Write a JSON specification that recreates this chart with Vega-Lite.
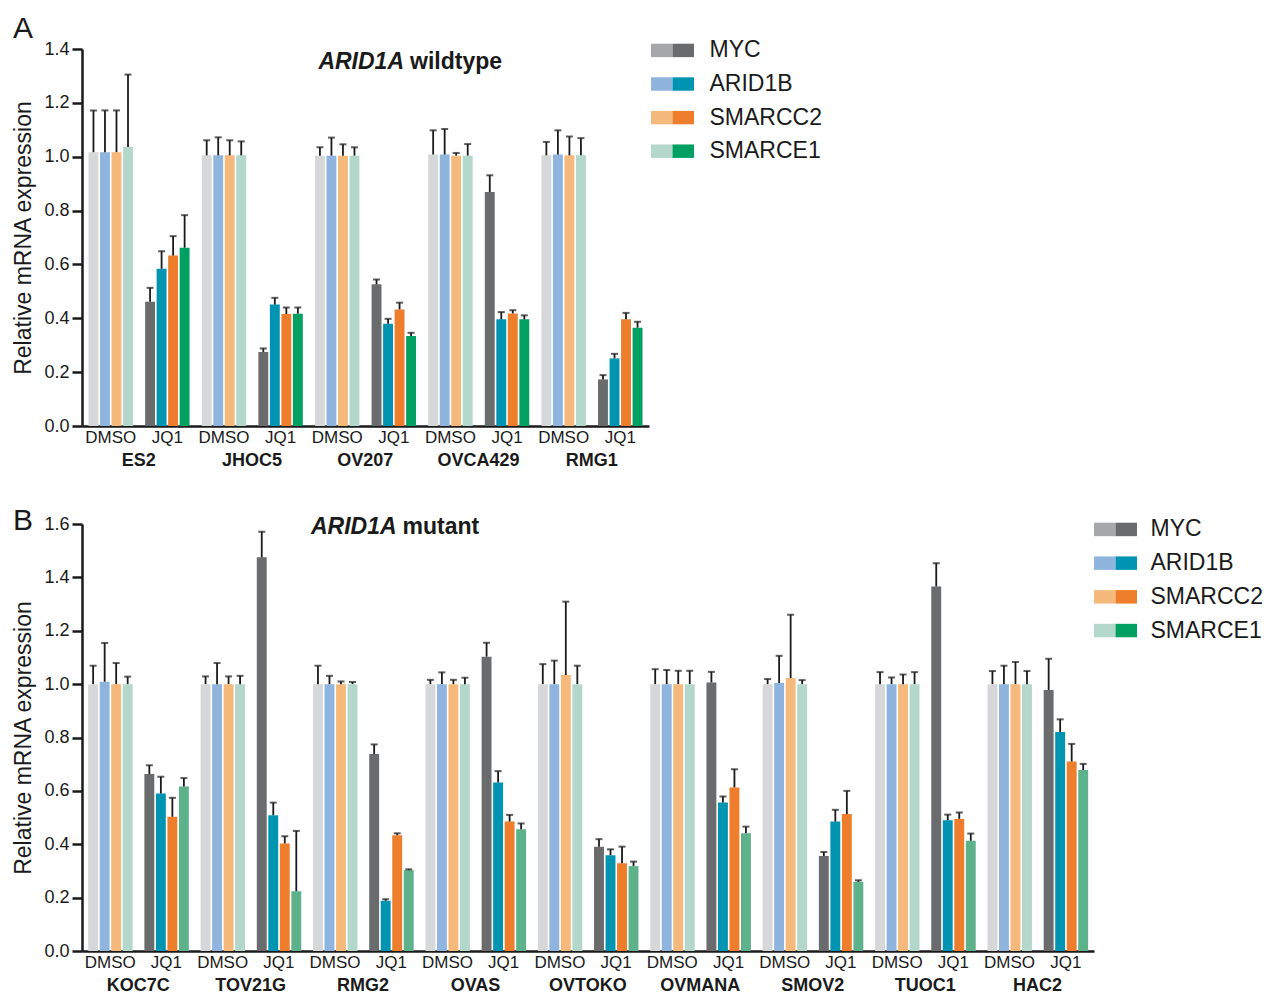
{
  "$schema": "https://vega.github.io/schema/vega-lite/v6.json",
  "background": "white",
  "padding": {"left": 12, "top": 14, "right": 2, "bottom": 2},
  "config": {
    "font": "Liberation Sans",
    "view": {"stroke": null},
    "axis": {"grid": false, "domainColor": "#1a1a1a", "tickColor": "#1a1a1a", "labelColor": "#1a1a1a", "titleColor": "#1a1a1a"},
    "axisY": {"tickSize": 10, "tickWidth": 2.5, "domainWidth": 2.5, "labelFontSize": 18, "labelPadding": 3, "titleFontSize": 23, "titleFontWeight": "normal", "titlePadding": 8},
    "axisX": {"domainWidth": 2.5, "ticks": false, "labelAngle": 0, "labelFontSize": 17, "labelPadding": 3}
  },
  "datasets": {
    "a": [
      {"g": "ES2|DMSO", "gene": "MYC", "k": "MYC|DMSO", "v": 1.017, "u": 1.172},
      {"g": "ES2|DMSO", "gene": "ARID1B", "k": "ARID1B|DMSO", "v": 1.017, "u": 1.172},
      {"g": "ES2|DMSO", "gene": "SMARCC2", "k": "SMARCC2|DMSO", "v": 1.017, "u": 1.172},
      {"g": "ES2|DMSO", "gene": "SMARCE1", "k": "SMARCE1|DMSO", "v": 1.036, "u": 1.305},
      {"g": "ES2|JQ1", "gene": "MYC", "k": "MYC|JQ1", "v": 0.461, "u": 0.513},
      {"g": "ES2|JQ1", "gene": "ARID1B", "k": "ARID1B|JQ1", "v": 0.584, "u": 0.649},
      {"g": "ES2|JQ1", "gene": "SMARCC2", "k": "SMARCC2|JQ1", "v": 0.633, "u": 0.705},
      {"g": "ES2|JQ1", "gene": "SMARCE1", "k": "SMARCE1|JQ1", "v": 0.662, "u": 0.783},
      {"g": "JHOC5|DMSO", "gene": "MYC", "k": "MYC|DMSO", "v": 1.005, "u": 1.061},
      {"g": "JHOC5|DMSO", "gene": "ARID1B", "k": "ARID1B|DMSO", "v": 1.005, "u": 1.072},
      {"g": "JHOC5|DMSO", "gene": "SMARCC2", "k": "SMARCC2|DMSO", "v": 1.005, "u": 1.061},
      {"g": "JHOC5|DMSO", "gene": "SMARCE1", "k": "SMARCE1|DMSO", "v": 1.005, "u": 1.057},
      {"g": "JHOC5|JQ1", "gene": "MYC", "k": "MYC|JQ1", "v": 0.275, "u": 0.288},
      {"g": "JHOC5|JQ1", "gene": "ARID1B", "k": "ARID1B|JQ1", "v": 0.451, "u": 0.476},
      {"g": "JHOC5|JQ1", "gene": "SMARCC2", "k": "SMARCC2|JQ1", "v": 0.416, "u": 0.44},
      {"g": "JHOC5|JQ1", "gene": "SMARCE1", "k": "SMARCE1|JQ1", "v": 0.417, "u": 0.44},
      {"g": "OV207|DMSO", "gene": "MYC", "k": "MYC|DMSO", "v": 1.004, "u": 1.035},
      {"g": "OV207|DMSO", "gene": "ARID1B", "k": "ARID1B|DMSO", "v": 1.004, "u": 1.071},
      {"g": "OV207|DMSO", "gene": "SMARCC2", "k": "SMARCC2|DMSO", "v": 1.004, "u": 1.046},
      {"g": "OV207|DMSO", "gene": "SMARCE1", "k": "SMARCE1|DMSO", "v": 1.004, "u": 1.035},
      {"g": "OV207|JQ1", "gene": "MYC", "k": "MYC|JQ1", "v": 0.526, "u": 0.544},
      {"g": "OV207|JQ1", "gene": "ARID1B", "k": "ARID1B|JQ1", "v": 0.38, "u": 0.398},
      {"g": "OV207|JQ1", "gene": "SMARCC2", "k": "SMARCC2|JQ1", "v": 0.433, "u": 0.458},
      {"g": "OV207|JQ1", "gene": "SMARCE1", "k": "SMARCE1|JQ1", "v": 0.334, "u": 0.346},
      {"g": "OVCA429|DMSO", "gene": "MYC", "k": "MYC|DMSO", "v": 1.008, "u": 1.098},
      {"g": "OVCA429|DMSO", "gene": "ARID1B", "k": "ARID1B|DMSO", "v": 1.008, "u": 1.103},
      {"g": "OVCA429|DMSO", "gene": "SMARCC2", "k": "SMARCC2|DMSO", "v": 1.004, "u": 1.014},
      {"g": "OVCA429|DMSO", "gene": "SMARCE1", "k": "SMARCE1|DMSO", "v": 1.004, "u": 1.047},
      {"g": "OVCA429|JQ1", "gene": "MYC", "k": "MYC|JQ1", "v": 0.869, "u": 0.931},
      {"g": "OVCA429|JQ1", "gene": "ARID1B", "k": "ARID1B|JQ1", "v": 0.396, "u": 0.423},
      {"g": "OVCA429|JQ1", "gene": "SMARCC2", "k": "SMARCC2|JQ1", "v": 0.418, "u": 0.43},
      {"g": "OVCA429|JQ1", "gene": "SMARCE1", "k": "SMARCE1|JQ1", "v": 0.396, "u": 0.411},
      {"g": "RMG1|DMSO", "gene": "MYC", "k": "MYC|DMSO", "v": 1.005, "u": 1.055},
      {"g": "RMG1|DMSO", "gene": "ARID1B", "k": "ARID1B|DMSO", "v": 1.008, "u": 1.098},
      {"g": "RMG1|DMSO", "gene": "SMARCC2", "k": "SMARCC2|DMSO", "v": 1.005, "u": 1.075},
      {"g": "RMG1|DMSO", "gene": "SMARCE1", "k": "SMARCE1|DMSO", "v": 1.005, "u": 1.069},
      {"g": "RMG1|JQ1", "gene": "MYC", "k": "MYC|JQ1", "v": 0.173, "u": 0.189},
      {"g": "RMG1|JQ1", "gene": "ARID1B", "k": "ARID1B|JQ1", "v": 0.251, "u": 0.268},
      {"g": "RMG1|JQ1", "gene": "SMARCC2", "k": "SMARCC2|JQ1", "v": 0.396, "u": 0.42},
      {"g": "RMG1|JQ1", "gene": "SMARCE1", "k": "SMARCE1|JQ1", "v": 0.365, "u": 0.387}
    ],
    "b": [
      {"g": "KOC7C|DMSO", "gene": "MYC", "k": "MYC|DMSO", "v": 1.0, "u": 1.069},
      {"g": "KOC7C|DMSO", "gene": "ARID1B", "k": "ARID1B|DMSO", "v": 1.009, "u": 1.154},
      {"g": "KOC7C|DMSO", "gene": "SMARCC2", "k": "SMARCC2|DMSO", "v": 1.0, "u": 1.079},
      {"g": "KOC7C|DMSO", "gene": "SMARCE1", "k": "SMARCE1|DMSO", "v": 1.0, "u": 1.028},
      {"g": "KOC7C|JQ1", "gene": "MYC", "k": "MYC|JQ1", "v": 0.663, "u": 0.696},
      {"g": "KOC7C|JQ1", "gene": "ARID1B", "k": "ARID1B|JQ1", "v": 0.59, "u": 0.653},
      {"g": "KOC7C|JQ1", "gene": "SMARCC2", "k": "SMARCC2|JQ1", "v": 0.503, "u": 0.574},
      {"g": "KOC7C|JQ1", "gene": "SMARCE1", "k": "SMARCE1|JQ1", "v": 0.616, "u": 0.648},
      {"g": "TOV21G|DMSO", "gene": "MYC", "k": "MYC|DMSO", "v": 1.0, "u": 1.029},
      {"g": "TOV21G|DMSO", "gene": "ARID1B", "k": "ARID1B|DMSO", "v": 1.0, "u": 1.079},
      {"g": "TOV21G|DMSO", "gene": "SMARCC2", "k": "SMARCC2|DMSO", "v": 1.0, "u": 1.029},
      {"g": "TOV21G|DMSO", "gene": "SMARCE1", "k": "SMARCE1|DMSO", "v": 1.0, "u": 1.031},
      {"g": "TOV21G|JQ1", "gene": "MYC", "k": "MYC|JQ1", "v": 1.475, "u": 1.571},
      {"g": "TOV21G|JQ1", "gene": "ARID1B", "k": "ARID1B|JQ1", "v": 0.509, "u": 0.556},
      {"g": "TOV21G|JQ1", "gene": "SMARCC2", "k": "SMARCC2|JQ1", "v": 0.403, "u": 0.43},
      {"g": "TOV21G|JQ1", "gene": "SMARCE1", "k": "SMARCE1|JQ1", "v": 0.224, "u": 0.45},
      {"g": "RMG2|DMSO", "gene": "MYC", "k": "MYC|DMSO", "v": 1.0, "u": 1.069},
      {"g": "RMG2|DMSO", "gene": "ARID1B", "k": "ARID1B|DMSO", "v": 1.0, "u": 1.031},
      {"g": "RMG2|DMSO", "gene": "SMARCC2", "k": "SMARCC2|DMSO", "v": 1.0, "u": 1.01},
      {"g": "RMG2|DMSO", "gene": "SMARCE1", "k": "SMARCE1|DMSO", "v": 1.0, "u": 1.008},
      {"g": "RMG2|JQ1", "gene": "MYC", "k": "MYC|JQ1", "v": 0.738, "u": 0.774},
      {"g": "RMG2|JQ1", "gene": "ARID1B", "k": "ARID1B|JQ1", "v": 0.188, "u": 0.194},
      {"g": "RMG2|JQ1", "gene": "SMARCC2", "k": "SMARCC2|JQ1", "v": 0.434, "u": 0.441},
      {"g": "RMG2|JQ1", "gene": "SMARCE1", "k": "SMARCE1|JQ1", "v": 0.303, "u": 0.306},
      {"g": "OVAS|DMSO", "gene": "MYC", "k": "MYC|DMSO", "v": 1.0, "u": 1.016},
      {"g": "OVAS|DMSO", "gene": "ARID1B", "k": "ARID1B|DMSO", "v": 1.0, "u": 1.044},
      {"g": "OVAS|DMSO", "gene": "SMARCC2", "k": "SMARCC2|DMSO", "v": 1.0, "u": 1.016},
      {"g": "OVAS|DMSO", "gene": "SMARCE1", "k": "SMARCE1|DMSO", "v": 1.0, "u": 1.024},
      {"g": "OVAS|JQ1", "gene": "MYC", "k": "MYC|JQ1", "v": 1.103, "u": 1.155},
      {"g": "OVAS|JQ1", "gene": "ARID1B", "k": "ARID1B|JQ1", "v": 0.631, "u": 0.674},
      {"g": "OVAS|JQ1", "gene": "SMARCC2", "k": "SMARCC2|JQ1", "v": 0.485, "u": 0.51},
      {"g": "OVAS|JQ1", "gene": "SMARCE1", "k": "SMARCE1|JQ1", "v": 0.456, "u": 0.478},
      {"g": "OVTOKO|DMSO", "gene": "MYC", "k": "MYC|DMSO", "v": 1.0, "u": 1.075},
      {"g": "OVTOKO|DMSO", "gene": "ARID1B", "k": "ARID1B|DMSO", "v": 1.0, "u": 1.088},
      {"g": "OVTOKO|DMSO", "gene": "SMARCC2", "k": "SMARCC2|DMSO", "v": 1.034, "u": 1.309},
      {"g": "OVTOKO|DMSO", "gene": "SMARCE1", "k": "SMARCE1|DMSO", "v": 1.0, "u": 1.069},
      {"g": "OVTOKO|JQ1", "gene": "MYC", "k": "MYC|JQ1", "v": 0.391, "u": 0.419},
      {"g": "OVTOKO|JQ1", "gene": "ARID1B", "k": "ARID1B|JQ1", "v": 0.359, "u": 0.381},
      {"g": "OVTOKO|JQ1", "gene": "SMARCC2", "k": "SMARCC2|JQ1", "v": 0.329, "u": 0.391},
      {"g": "OVTOKO|JQ1", "gene": "SMARCE1", "k": "SMARCE1|JQ1", "v": 0.318, "u": 0.335},
      {"g": "OVMANA|DMSO", "gene": "MYC", "k": "MYC|DMSO", "v": 1.0, "u": 1.056},
      {"g": "OVMANA|DMSO", "gene": "ARID1B", "k": "ARID1B|DMSO", "v": 1.0, "u": 1.053},
      {"g": "OVMANA|DMSO", "gene": "SMARCC2", "k": "SMARCC2|DMSO", "v": 1.0, "u": 1.05},
      {"g": "OVMANA|DMSO", "gene": "SMARCE1", "k": "SMARCE1|DMSO", "v": 1.0, "u": 1.05},
      {"g": "OVMANA|JQ1", "gene": "MYC", "k": "MYC|JQ1", "v": 1.006, "u": 1.046},
      {"g": "OVMANA|JQ1", "gene": "ARID1B", "k": "ARID1B|JQ1", "v": 0.556, "u": 0.579},
      {"g": "OVMANA|JQ1", "gene": "SMARCC2", "k": "SMARCC2|JQ1", "v": 0.613, "u": 0.681},
      {"g": "OVMANA|JQ1", "gene": "SMARCE1", "k": "SMARCE1|JQ1", "v": 0.441, "u": 0.466},
      {"g": "SMOV2|DMSO", "gene": "MYC", "k": "MYC|DMSO", "v": 1.0, "u": 1.019},
      {"g": "SMOV2|DMSO", "gene": "ARID1B", "k": "ARID1B|DMSO", "v": 1.004, "u": 1.106},
      {"g": "SMOV2|DMSO", "gene": "SMARCC2", "k": "SMARCC2|DMSO", "v": 1.023, "u": 1.26},
      {"g": "SMOV2|DMSO", "gene": "SMARCE1", "k": "SMARCE1|DMSO", "v": 1.0, "u": 1.015},
      {"g": "SMOV2|JQ1", "gene": "MYC", "k": "MYC|JQ1", "v": 0.356, "u": 0.371},
      {"g": "SMOV2|JQ1", "gene": "ARID1B", "k": "ARID1B|JQ1", "v": 0.485, "u": 0.529},
      {"g": "SMOV2|JQ1", "gene": "SMARCC2", "k": "SMARCC2|JQ1", "v": 0.513, "u": 0.6},
      {"g": "SMOV2|JQ1", "gene": "SMARCE1", "k": "SMARCE1|JQ1", "v": 0.259, "u": 0.265},
      {"g": "TUOC1|DMSO", "gene": "MYC", "k": "MYC|DMSO", "v": 1.0, "u": 1.045},
      {"g": "TUOC1|DMSO", "gene": "ARID1B", "k": "ARID1B|DMSO", "v": 1.0, "u": 1.025},
      {"g": "TUOC1|DMSO", "gene": "SMARCC2", "k": "SMARCC2|DMSO", "v": 1.0, "u": 1.036},
      {"g": "TUOC1|DMSO", "gene": "SMARCE1", "k": "SMARCE1|DMSO", "v": 1.0, "u": 1.045},
      {"g": "TUOC1|JQ1", "gene": "MYC", "k": "MYC|JQ1", "v": 1.366, "u": 1.453},
      {"g": "TUOC1|JQ1", "gene": "ARID1B", "k": "ARID1B|JQ1", "v": 0.49, "u": 0.511},
      {"g": "TUOC1|JQ1", "gene": "SMARCC2", "k": "SMARCC2|JQ1", "v": 0.495, "u": 0.519},
      {"g": "TUOC1|JQ1", "gene": "SMARCE1", "k": "SMARCE1|JQ1", "v": 0.413, "u": 0.44},
      {"g": "HAC2|DMSO", "gene": "MYC", "k": "MYC|DMSO", "v": 1.0, "u": 1.049},
      {"g": "HAC2|DMSO", "gene": "ARID1B", "k": "ARID1B|DMSO", "v": 1.0, "u": 1.069},
      {"g": "HAC2|DMSO", "gene": "SMARCC2", "k": "SMARCC2|DMSO", "v": 1.0, "u": 1.083},
      {"g": "HAC2|DMSO", "gene": "SMARCE1", "k": "SMARCE1|DMSO", "v": 1.0, "u": 1.049},
      {"g": "HAC2|JQ1", "gene": "MYC", "k": "MYC|JQ1", "v": 0.978, "u": 1.095},
      {"g": "HAC2|JQ1", "gene": "ARID1B", "k": "ARID1B|JQ1", "v": 0.821, "u": 0.868},
      {"g": "HAC2|JQ1", "gene": "SMARCC2", "k": "SMARCC2|JQ1", "v": 0.71, "u": 0.776},
      {"g": "HAC2|JQ1", "gene": "SMARCE1", "k": "SMARCE1|JQ1", "v": 0.678, "u": 0.701}
    ],
    "leg": [
      {"gene": "MYC", "t": "DMSO", "k": "MYC|DMSO"},
      {"gene": "MYC", "t": "JQ1", "k": "MYC|JQ1"},
      {"gene": "ARID1B", "t": "DMSO", "k": "ARID1B|DMSO"},
      {"gene": "ARID1B", "t": "JQ1", "k": "ARID1B|JQ1"},
      {"gene": "SMARCC2", "t": "DMSO", "k": "SMARCC2|DMSO"},
      {"gene": "SMARCC2", "t": "JQ1", "k": "SMARCC2|JQ1"},
      {"gene": "SMARCE1", "t": "DMSO", "k": "SMARCE1|DMSO"},
      {"gene": "SMARCE1", "t": "JQ1", "k": "SMARCE1|JQ1"}
    ]
  },
  "vconcat": [
    {
      "hconcat": [
        {
          "width": 567,
          "height": 377,
          "title": {"text": "A", "anchor": "start", "frame": "bounds", "fontSize": 30, "fontWeight": "normal", "color": "#1a1a1a", "offset": -4},
          "data": {"name": "a"},
          "layer": [
            {
              "mark": {"type": "bar"},
              "encoding": {
                "x": {"field": "g", "type": "nominal", "scale": {"domain": ["ES2|DMSO", "ES2|JQ1", "JHOC5|DMSO", "JHOC5|JQ1", "OV207|DMSO", "OV207|JQ1", "OVCA429|DMSO", "OVCA429|JQ1", "RMG1|DMSO", "RMG1|JQ1"], "paddingInner": 0.215, "paddingOuter": 0.115}, "axis": {"title": null, "labelExpr": "split(datum.value, '|')[1]", "orient": "bottom"}},
                "xOffset": {"field": "gene", "type": "nominal", "sort": ["MYC", "ARID1B", "SMARCC2", "SMARCE1"], "scale": {"paddingInner": 0.14, "paddingOuter": 0}},
                "y": {"field": "v", "type": "quantitative", "title": "Relative mRNA expression", "scale": {"domain": [0, 1.4]}, "axis": {"values": [0, 0.2, 0.4, 0.6, 0.8, 1.0, 1.2, 1.4], "format": ".1f"}},
                "color": {"field": "k", "type": "nominal", "legend": null, "scale": {"domain": ["MYC|DMSO", "ARID1B|DMSO", "SMARCC2|DMSO", "SMARCE1|DMSO", "MYC|JQ1", "ARID1B|JQ1", "SMARCC2|JQ1", "SMARCE1|JQ1"], "range": ["#d6d7d9", "#8fb5de", "#f5b97b", "#b3d7ca", "#6a6b6d", "#0094b3", "#ee7d2c", "#00a062"]}}
              }
            },
            {
              "mark": {"type": "rule", "color": "#1a1a1a", "strokeWidth": 1.8},
              "encoding": {
                "x": {"field": "g", "type": "nominal", "axis": {"title": null, "orient": "bottom", "offset": 22, "domain": false, "labelExpr": "split(datum.value, '|')[1] == 'DMSO' ? split(datum.value, '|')[0] : ''", "labelOffset": 28, "labelFontWeight": "bold", "labelFontSize": 18, "labelPadding": 3}},
                "xOffset": {"field": "gene", "type": "nominal", "sort": ["MYC", "ARID1B", "SMARCC2", "SMARCE1"]},
                "y": {"field": "v", "type": "quantitative", "title": "Relative mRNA expression"},
                "y2": {"field": "u"}
              }
            },
            {
              "mark": {"type": "tick", "color": "#1a1a1a", "thickness": 2, "size": 7, "orient": "horizontal"},
              "encoding": {
                "x": {"field": "g", "type": "nominal", "axis": null},
                "xOffset": {"field": "gene", "type": "nominal", "sort": ["MYC", "ARID1B", "SMARCC2", "SMARCE1"]},
                "y": {"field": "u", "type": "quantitative", "title": "Relative mRNA expression"}
              }
            },
            {
              "data": {"values": [{"s": "ARID1A"}]},
              "mark": {"type": "text", "fontSize": 23, "fontWeight": "bold", "fontStyle": "italic", "align": "right", "baseline": "middle", "color": "#1a1a1a"},
              "encoding": {
                "x": {"datum": "OV207|JQ1", "type": "nominal", "bandPosition": 0.73, "axis": null},
                "y": {"datum": 1.353, "type": "quantitative"},
                "text": {"field": "s", "type": "nominal"}
              }
            },
            {
              "data": {"values": [{"s": "wildtype"}]},
              "mark": {"type": "text", "fontSize": 23, "fontWeight": "bold", "align": "left", "baseline": "middle", "dx": 6, "color": "#1a1a1a"},
              "encoding": {
                "x": {"datum": "OV207|JQ1", "type": "nominal", "bandPosition": 0.73, "axis": null},
                "y": {"datum": 1.353, "type": "quantitative"},
                "text": {"field": "s", "type": "nominal"}
              }
            }
          ],
          "resolve": {"axis": {"x": "independent"}}
        },
        {
          "width": 43,
          "height": 110,
          "data": {"name": "leg"},
          "mark": {"type": "rect"},
          "encoding": {
            "x": {"field": "t", "type": "nominal", "sort": ["DMSO", "JQ1"], "scale": {"paddingInner": 0, "paddingOuter": 0}, "axis": null},
            "y": {"field": "gene", "type": "nominal", "sort": ["MYC", "ARID1B", "SMARCC2", "SMARCE1"], "scale": {"paddingInner": 0.6, "paddingOuter": 0, "range": [-5.3, 108.9]}, "axis": {"orient": "right", "title": null, "domain": false, "ticks": false, "labelFontSize": 23, "labelPadding": 15}},
            "color": {"field": "k", "type": "nominal", "legend": null, "scale": {"domain": ["MYC|DMSO", "ARID1B|DMSO", "SMARCC2|DMSO", "SMARCE1|DMSO", "MYC|JQ1", "ARID1B|JQ1", "SMARCC2|JQ1", "SMARCE1|JQ1"], "range": ["#a6a7a9", "#8fb5de", "#f5b97b", "#b3d7ca", "#6a6b6d", "#0094b3", "#ee7d2c", "#00a062"]}}
          }
        }
      ],
      "spacing": 2,
      "resolve": {"scale": {"color": "independent"}}
    },
    {
      "hconcat": [
        {
          "width": 1012,
          "height": 427,
          "title": {"text": "B", "anchor": "start", "frame": "bounds", "fontSize": 30, "fontWeight": "normal", "color": "#1a1a1a", "offset": -21},
          "data": {"name": "b"},
          "layer": [
            {
              "mark": {"type": "bar"},
              "encoding": {
                "x": {"field": "g", "type": "nominal", "scale": {"domain": ["KOC7C|DMSO", "KOC7C|JQ1", "TOV21G|DMSO", "TOV21G|JQ1", "RMG2|DMSO", "RMG2|JQ1", "OVAS|DMSO", "OVAS|JQ1", "OVTOKO|DMSO", "OVTOKO|JQ1", "OVMANA|DMSO", "OVMANA|JQ1", "SMOV2|DMSO", "SMOV2|JQ1", "TUOC1|DMSO", "TUOC1|JQ1", "HAC2|DMSO", "HAC2|JQ1"], "paddingInner": 0.215, "paddingOuter": 0.11}, "axis": {"title": null, "labelExpr": "split(datum.value, '|')[1]", "orient": "bottom"}},
                "xOffset": {"field": "gene", "type": "nominal", "sort": ["MYC", "ARID1B", "SMARCC2", "SMARCE1"], "scale": {"paddingInner": 0.14, "paddingOuter": 0}},
                "y": {"field": "v", "type": "quantitative", "title": "Relative mRNA expression", "scale": {"domain": [0, 1.6]}, "axis": {"values": [0, 0.2, 0.4, 0.6, 0.8, 1.0, 1.2, 1.4, 1.6], "format": ".1f"}},
                "color": {"field": "k", "type": "nominal", "legend": null, "scale": {"domain": ["MYC|DMSO", "ARID1B|DMSO", "SMARCC2|DMSO", "SMARCE1|DMSO", "MYC|JQ1", "ARID1B|JQ1", "SMARCC2|JQ1", "SMARCE1|JQ1"], "range": ["#d6d7d9", "#8fb5de", "#f5b97b", "#b3d7ca", "#6a6b6d", "#0094b3", "#ee7d2c", "#5db28b"]}}
              }
            },
            {
              "mark": {"type": "rule", "color": "#1a1a1a", "strokeWidth": 1.8},
              "encoding": {
                "x": {"field": "g", "type": "nominal", "axis": {"title": null, "orient": "bottom", "offset": 22, "domain": false, "labelExpr": "split(datum.value, '|')[1] == 'DMSO' ? split(datum.value, '|')[0] : ''", "labelOffset": 28, "labelFontWeight": "bold", "labelFontSize": 18, "labelPadding": 3}},
                "xOffset": {"field": "gene", "type": "nominal", "sort": ["MYC", "ARID1B", "SMARCC2", "SMARCE1"]},
                "y": {"field": "v", "type": "quantitative", "title": "Relative mRNA expression"},
                "y2": {"field": "u"}
              }
            },
            {
              "mark": {"type": "tick", "color": "#1a1a1a", "thickness": 2, "size": 7, "orient": "horizontal"},
              "encoding": {
                "x": {"field": "g", "type": "nominal", "axis": null},
                "xOffset": {"field": "gene", "type": "nominal", "sort": ["MYC", "ARID1B", "SMARCC2", "SMARCE1"]},
                "y": {"field": "u", "type": "quantitative", "title": "Relative mRNA expression"}
              }
            },
            {
              "data": {"values": [{"s": "ARID1A"}]},
              "mark": {"type": "text", "fontSize": 23, "fontWeight": "bold", "fontStyle": "italic", "align": "right", "baseline": "middle", "color": "#1a1a1a"},
              "encoding": {
                "x": {"datum": "RMG2|JQ1", "type": "nominal", "bandPosition": 0.62, "axis": null},
                "y": {"datum": 1.589, "type": "quantitative"},
                "text": {"field": "s", "type": "nominal"}
              }
            },
            {
              "data": {"values": [{"s": "mutant"}]},
              "mark": {"type": "text", "fontSize": 23, "fontWeight": "bold", "align": "left", "baseline": "middle", "dx": 6, "color": "#1a1a1a"},
              "encoding": {
                "x": {"datum": "RMG2|JQ1", "type": "nominal", "bandPosition": 0.62, "axis": null},
                "y": {"datum": 1.589, "type": "quantitative"},
                "text": {"field": "s", "type": "nominal"}
              }
            }
          ],
          "resolve": {"axis": {"x": "independent"}}
        },
        {
          "width": 43,
          "height": 110,
          "data": {"name": "leg"},
          "mark": {"type": "rect"},
          "encoding": {
            "x": {"field": "t", "type": "nominal", "sort": ["DMSO", "JQ1"], "scale": {"paddingInner": 0, "paddingOuter": 0}, "axis": null},
            "y": {"field": "gene", "type": "nominal", "sort": ["MYC", "ARID1B", "SMARCC2", "SMARCE1"], "scale": {"paddingInner": 0.6, "paddingOuter": 0, "range": [-1.3, 113.3]}, "axis": {"orient": "right", "title": null, "domain": false, "ticks": false, "labelFontSize": 23, "labelPadding": 13}},
            "color": {"field": "k", "type": "nominal", "legend": null, "scale": {"domain": ["MYC|DMSO", "ARID1B|DMSO", "SMARCC2|DMSO", "SMARCE1|DMSO", "MYC|JQ1", "ARID1B|JQ1", "SMARCC2|JQ1", "SMARCE1|JQ1"], "range": ["#a6a7a9", "#8fb5de", "#f5b97b", "#b3d7ca", "#6a6b6d", "#0094b3", "#ee7d2c", "#00a062"]}}
          }
        }
      ],
      "spacing": 0,
      "resolve": {"scale": {"color": "independent"}}
    }
  ],
  "spacing": 37,
  "resolve": {"scale": {"color": "independent"}}
}
